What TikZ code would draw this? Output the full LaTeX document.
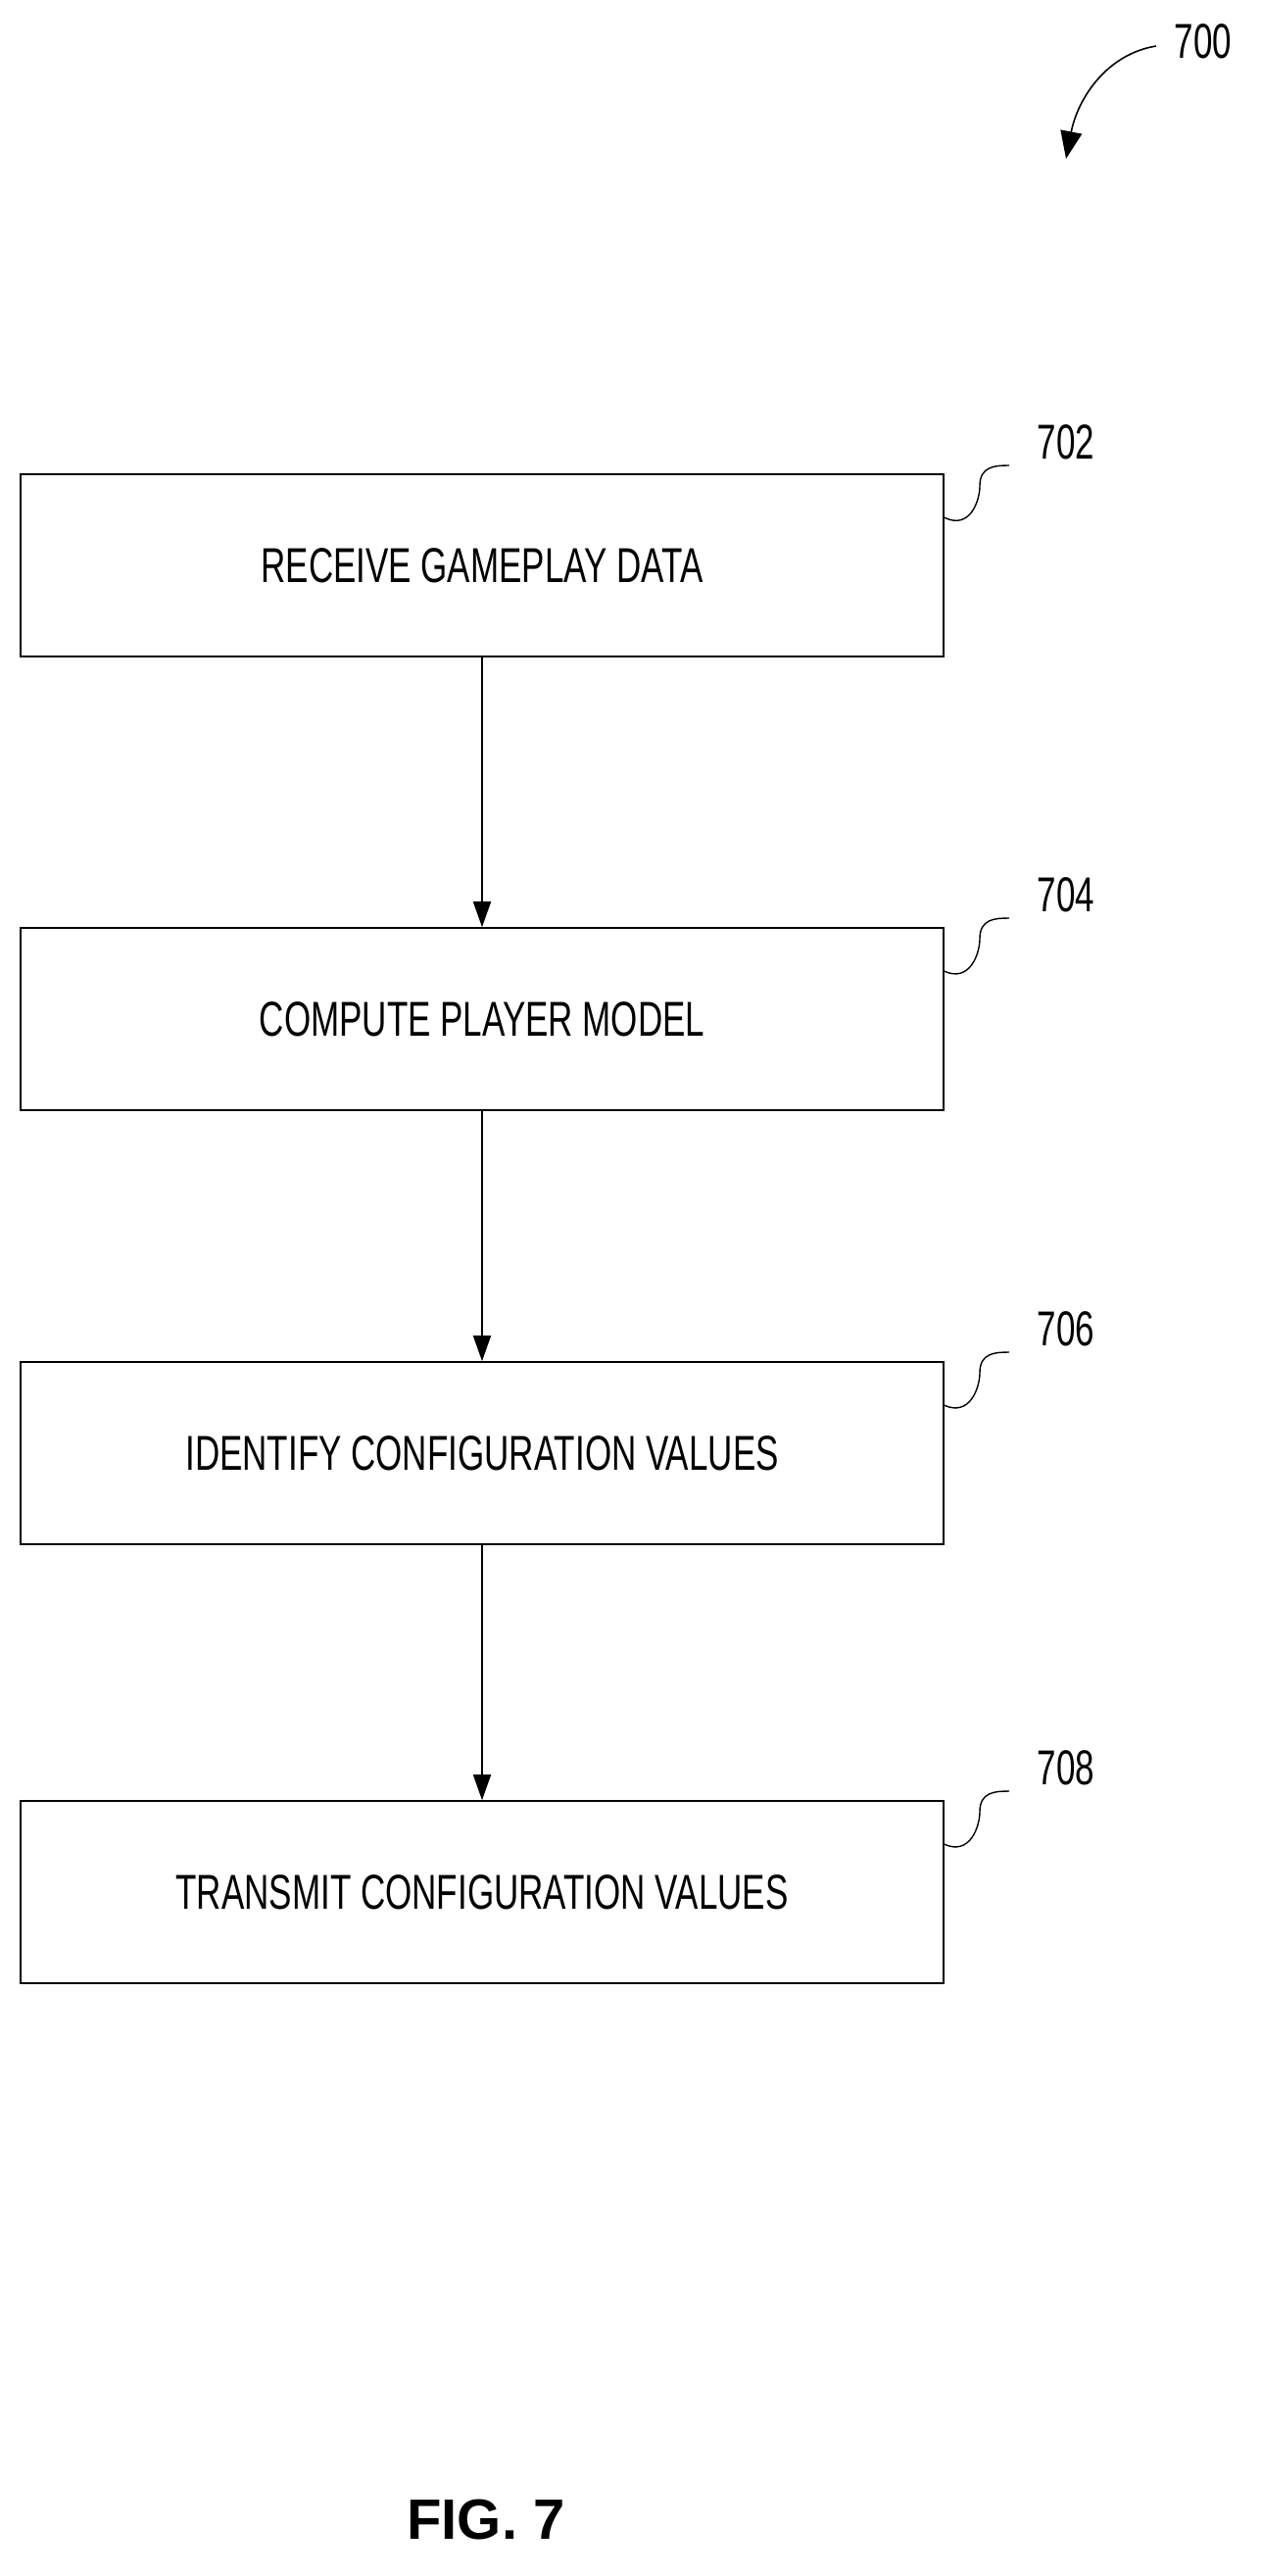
\documentclass[tikz,border=0pt]{standalone}
\usepackage{fontspec}
\setmainfont{Liberation Sans}[FakeStretch=0.7]
\newfontfamily\figfont{Liberation Sans}
\usetikzlibrary{arrows.meta}
\begin{document}
\begin{tikzpicture}[x=1pt,y=-1pt,
  box/.style={draw,line width=1.6pt,minimum width=942pt,minimum height=186pt,font=\fontsize{50}{54}\selectfont},
  lab/.style={font=\fontsize{50}{54}\selectfont},
  arr/.style={line width=1.6pt,-{Triangle[length=26pt,width=18pt]}},
  sq/.style={line width=1.4pt}]
\useasboundingbox (0,0) rectangle (1286,2629);
\node[box] (b1) at (492,577) {RECEIVE GAMEPLAY DATA};
\node[box] (b2) at (492,1040) {COMPUTE PLAYER MODEL};
\node[box] (b3) at (492,1483) {IDENTIFY CONFIGURATION VALUES};
\node[box] (b4) at (492,1931) {TRANSMIT CONFIGURATION VALUES};
\draw[arr] (b1) -- (b2);
\draw[arr] (b2) -- (b3);
\draw[arr] (b3) -- (b4);
\foreach \b/\t/\y in {b1/702/451,b2/704/913,b3/706/1356,b4/708/1804}{
  \node[lab] (l\t) at (1088,\y) {\t};
  \coordinate (s\t) at (1030,\y+24);
  \draw[sq] (\b.north east) ++(0,45) .. controls (990,\y+90) and (1000,\y+60) .. (1000,\y+45) .. controls (1000,\y+25) and (1015,\y+24) .. (s\t);
}
\node[lab] (l700) at (1228,42) {700};
\coordinate (c700) at (1180,47);
\coordinate (t700) at (1088,162);
\draw[line width=1.6pt,-{Triangle[length=28pt,width=22pt]}] (c700) .. controls (1130,55) and (1100,100) .. (t700);
\node[font=\figfont\bfseries\fontsize{58}{62}\selectfont] (fig) at (496,2572) {FIG. 7};
\end{tikzpicture}
\end{document}
